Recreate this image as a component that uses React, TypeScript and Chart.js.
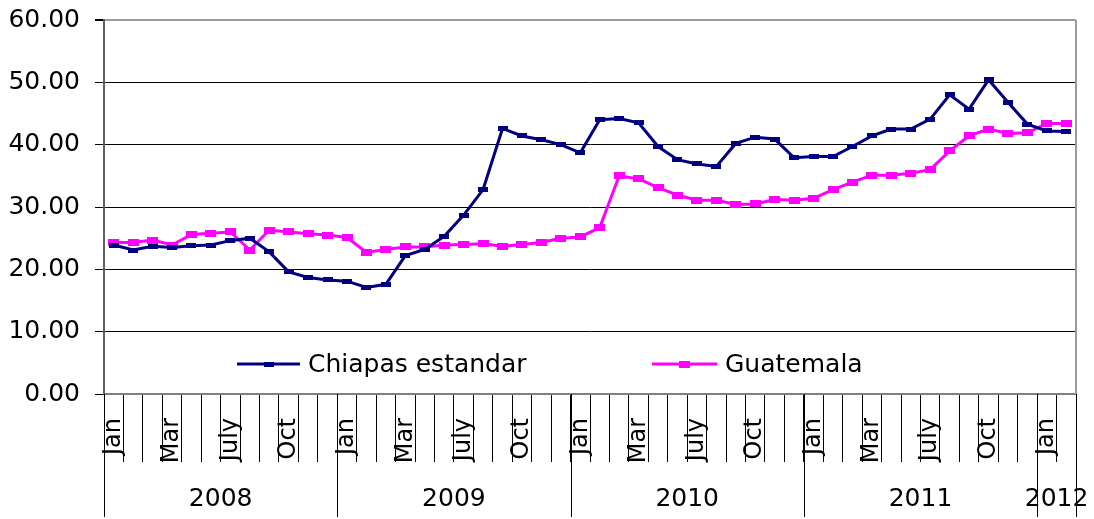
import React, { useEffect, useRef } from "react";
import { Chart, registerables } from "chart.js";

Chart.register(...registerables);

const years = ["2008", "2009", "2010", "2011", "2012"];
const monthsPerYear = [12, 12, 12, 12, 2];
const monthTickLabels = ["Jan", "", "", "Mar", "", "", "July", "", "", "Oct", "", ""];

const chiapas = [
  23.9, 23.1, 23.7, 23.5, 23.8, 23.9, 24.6, 25.0, 22.8, 19.6, 18.7, 18.3,
  18.1, 17.1, 17.6, 22.2, 23.2, 25.3, 28.7, 32.8, 42.6, 41.4, 40.8, 40.0,
  38.7, 44.0, 44.2, 43.5, 39.7, 37.6, 36.9, 36.5, 40.2, 41.2, 40.9, 37.9,
  38.1, 38.1, 39.7, 41.4, 42.5, 42.5, 44.1, 48.0, 45.7, 50.4, 46.8, 43.3,
  42.2, 42.1,
];

const guatemala = [
  24.3, 24.3, 24.7, 23.9, 25.6, 25.8, 26.0, 23.1, 26.3, 26.0, 25.7, 25.5,
  25.1, 22.7, 23.2, 23.6, 23.6, 23.9, 24.0, 24.1, 23.7, 24.0, 24.3, 25.0,
  25.2, 26.7, 35.0, 34.5, 33.1, 31.9, 31.1, 31.1, 30.4, 30.5, 31.2, 31.1,
  31.4, 32.8, 34.0, 35.1, 35.1, 35.4, 36.0, 39.0, 41.4, 42.5, 41.8, 41.9,
  43.4, 43.4,
];

const seriesNames = ["Chiapas estandar", "Guatemala"];
const seriesColors = ["#000080", "#FF00FF"];
const yMin = 0;
const yMax = 60;
const yStep = 10;

const FONT = "'DejaVu Sans', sans-serif";

function makeMarker(color: string, w: number, h: number) {
  const c = document.createElement("canvas");
  c.width = w;
  c.height = h;
  const g = c.getContext("2d")!;
  g.fillStyle = color;
  g.fillRect(0, 0, w, h);
  return c;
}

export default function App() {
  const ref = useRef<HTMLCanvasElement | null>(null);

  useEffect(() => {
    if (!ref.current) return;
    const labels: string[] = [];
    years.forEach((_, yi) => {
      for (let m = 0; m < monthsPerYear[yi]; m++) labels.push(monthTickLabels[m]);
    });
    const markers = [makeMarker(seriesColors[0], 10, 5), makeMarker(seriesColors[1], 11, 7)];

    const decor = {
      id: "decor",
      afterDraw(chart: any) {
        const ctx = chart.ctx;
        const area = chart.chartArea;
        const xs = chart.scales.x;
        const n = labels.length;
        const w = (area.right - area.left) / n;
        ctx.save();
        // right border
        ctx.strokeStyle = "#9a9a9a";
        ctx.lineWidth = 2;
        ctx.beginPath();
        ctx.moveTo(area.right, area.top);
        ctx.lineTo(area.right, area.bottom);
        ctx.stroke();
        // year separators and labels
        ctx.strokeStyle = "#000";
        ctx.lineWidth = 1;
        let idx = 0;
        ctx.font = `25px ${FONT}`;
        ctx.fillStyle = "#000";
        ctx.textAlign = "center";
        ctx.textBaseline = "middle";
        const bx = (i: number) =>
          i < n ? xs.getPixelForValue(i) - w / 2 : xs.getPixelForValue(n - 1) + w / 2;
        years.forEach((yr, yi) => {
          const x0 = Math.round(bx(idx)) + 0.5;
          ctx.beginPath();
          ctx.moveTo(x0, area.bottom);
          ctx.lineTo(x0, area.bottom + 123);
          ctx.stroke();
          const x1 = bx(idx + monthsPerYear[yi]);
          ctx.fillText(yr, (bx(idx) + x1) / 2, area.bottom + 105);
          idx += monthsPerYear[yi];
        });
        const xe = Math.round(bx(n)) + 0.5;
        ctx.beginPath();
        ctx.moveTo(xe, area.bottom);
        ctx.lineTo(xe, area.bottom + 123);
        ctx.stroke();

        // legend
        const ly = 364;
        const items = [
          { x0: 237, x1: 300, tx: 308 },
          { x0: 652, x1: 717, tx: 725 },
        ];
        items.forEach((it, i) => {
          ctx.strokeStyle = seriesColors[i];
          ctx.lineWidth = 3;
          ctx.beginPath();
          ctx.moveTo(it.x0, ly);
          ctx.lineTo(it.x1, ly);
          ctx.stroke();
          const mk = markers[i];
          ctx.drawImage(mk, (it.x0 + it.x1) / 2 - mk.width / 2, ly - mk.height / 2);
          ctx.fillStyle = "#000";
          ctx.textAlign = "left";
          ctx.textBaseline = "middle";
          ctx.font = `25px ${FONT}`;
          ctx.fillText(seriesNames[i], it.tx, ly + 1);
        });
        ctx.restore();
      },
    };

    const chart = new Chart(ref.current, {
      type: "line",
      data: {
        labels,
        datasets: [
          {
            label: seriesNames[0],
            data: chiapas,
            borderColor: seriesColors[0],
            backgroundColor: seriesColors[0],
            borderWidth: 3,
            pointStyle: markers[0] as any,
            pointRadius: 5,
            tension: 0,
          },
          {
            label: seriesNames[1],
            data: guatemala,
            borderColor: seriesColors[1],
            backgroundColor: seriesColors[1],
            borderWidth: 3,
            pointStyle: markers[1] as any,
            pointRadius: 5,
            tension: 0,
          },
        ],
      },
      options: {
        animation: false,
        responsive: false,
        events: [],
        layout: { padding: { top: 20, right: 18, left: 0, bottom: 0 } },
        plugins: {
          legend: { display: false },
          tooltip: { enabled: false },
        },
        scales: {
          x: {
            type: "category",
            offset: true,
            grid: {
              offset: true,
              drawOnChartArea: false,
              color: "#000",
              lineWidth: 1,
              tickLength: 68,
            },
            border: { color: "#808080", width: 2 },
            ticks: {
              autoSkip: false,
              minRotation: 90,
              maxRotation: 90,
              padding: -44,
              color: "#000",
              font: { family: FONT, size: 24 },
            },
            afterFit: (s: any) => {
              s.height = 125;
            },
          },
          y: {
            min: yMin,
            max: yMax,
            ticks: {
              stepSize: yStep,
              padding: 15,
              color: "#000",
              font: { family: FONT, size: 25, lineHeight: 0.2 },
              callback: (v: any) => Number(v).toFixed(2),
            },
            grid: {
              color: (c: any) => (c.tick && c.tick.value === yMax ? "#9a9a9a" : "#000"),
              lineWidth: (c: any) => (c.tick && c.tick.value === yMax ? 2 : 1),
              tickColor: "#000",
              tickLength: 9,
            },
            border: { color: "#606060", width: 2 },
            afterFit: (s: any) => {
              s.width = 104;
            },
          },
        },
      } as any,
      plugins: [decor],
    });
    return () => chart.destroy();
  }, []);

  return (
    <div style={{ position: "absolute", left: 0, top: 0, width: 1094, height: 519, background: "#fff" }}>
      <canvas ref={ref} width={1094} height={519} style={{ display: "block" }} />
    </div>
  );
}
